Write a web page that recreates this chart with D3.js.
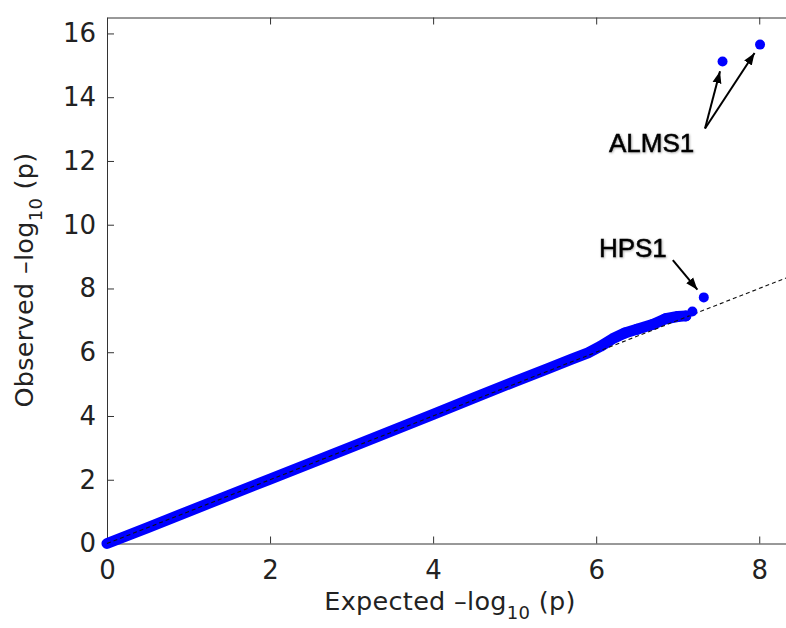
<!DOCTYPE html>
<html>
<head>
<meta charset="utf-8">
<script src="https://cdn.jsdelivr.net/npm/d3@7"></script>
<style>
  body { margin: 0; background: #fff; }
  .tick text { font-family: "DejaVu Sans", sans-serif; font-size: 26px; fill: #222; }
  .axis path, .axis line { stroke: #333; stroke-width: 1px; }
  .axisLabel { font-family: "DejaVu Sans", sans-serif; font-size: 25.5px; fill: #222; letter-spacing: 0.3px; }
  .gene { font-family: "Liberation Sans", Arial, sans-serif; font-size: 26px; fill: #000; }
</style>
</head>
<body>
<div id="chart"></div>
<script>
// QQ curve (expected vs observed -log10 p)
var expected = [0, 0.5, 1, 2, 3, 4, 4.5, 5, 5.4, 5.7, 5.9, 6.05, 6.2, 6.35, 6.5, 6.7, 6.85, 7.0, 7.1]
var observed = [0, 0.5, 1.01, 2.02, 3.03, 4.05, 4.57, 5.08, 5.48, 5.78, 5.98, 6.18, 6.42, 6.6, 6.72, 6.88, 7.05, 7.12, 7.14]
// single points at the top end
var tailExpected = [7.18, 7.32, 7.55, 8.01]
var tailObserved = [7.28, 7.72, 15.12, 15.65]

var xTicks = [0, 2, 4, 6, 8]
var yTicks = [0, 2, 4, 6, 8, 10, 12, 14, 16]

var annoGenes = ["ALMS1", "HPS1"]
var annoPoints = [[2, 3], [1]]
var annoLabelPos = [[6.68, 12.27], [6.45, 8.99]]
var annoArrowFrom = [[7.335, 13.02], [6.94, 8.89]]

var width = 786, height = 628
var blue = "#0000ff"

var svg = d3.select("#chart").append("svg")
  .attr("width", width)
  .attr("height", height)
  .style("display", "block")

var x = d3.scaleLinear().domain([0, 8.5]).range([107, 800])
var y = d3.scaleLinear().domain([0, 16.5]).range([543.5, 17.5])

var defs = svg.append("defs")
defs.append("filter").attr("id", "soft")
  .attr("x", "-10%").attr("y", "-20%").attr("width", "130%").attr("height", "150%")
  .append("feDropShadow")
  .attr("dx", 0.8).attr("dy", 0.8).attr("stdDeviation", 0.9)
  .attr("flood-color", "#000").attr("flood-opacity", 0.35)
defs.append("marker").attr("id", "head")
  .attr("markerUnits", "userSpaceOnUse")
  .attr("viewBox", "0 -5 12 10")
  .attr("refX", 12).attr("refY", 0)
  .attr("markerWidth", 12).attr("markerHeight", 10)
  .attr("orient", "auto")
  .append("path").attr("d", "M0,-4.5L12,0L0,4.5Z").attr("fill", "#000")

// axes: bottom + left with labels, top without
var xAxis = d3.axisBottom(x).tickValues(xTicks).tickSizeInner(-7).tickSizeOuter(0).tickPadding(17)
var yAxis = d3.axisLeft(y).tickValues(yTicks).tickSizeInner(-7).tickSizeOuter(0).tickPadding(11)
var topAxis = d3.axisTop(x).tickValues(xTicks).tickSizeInner(-7).tickSizeOuter(0).tickFormat("")

svg.append("g").attr("class", "axis")
  .attr("transform", "translate(0," + y.range()[0] + ")").call(xAxis)
svg.append("g").attr("class", "axis")
  .attr("transform", "translate(" + x.range()[0] + ",0)").call(yAxis)
svg.append("g").attr("class", "axis")
  .attr("transform", "translate(0," + y.range()[1] + ")").call(topAxis)
svg.selectAll(".axis .tick text").attr("fill", "#222")

// bulk of points drawn as a thick band
var pts = expected.map(function(d, i){ return {e: d, o: observed[i]} })
var line = d3.line()
  .x(function(d){ return x(d.e) })
  .y(function(d){ return y(d.o) })

svg.append("path").datum(pts)
  .attr("d", line)
  .style("fill", "none")
  .style("stroke", blue)
  .style("stroke-width", "11px")
  .style("stroke-linecap", "round")
  .style("stroke-linejoin", "round")

svg.selectAll(".bandDot").data(pts.slice(13)).enter().append("circle")
  .attr("class", "bandDot")
  .attr("cx", function(d){ return x(d.e) })
  .attr("cy", function(d){ return y(d.o) })
  .attr("r", 5.5)
  .style("fill", blue)

// y = x reference
svg.append("path").datum(x.domain())
  .attr("d", d3.line().x(function(d){ return x(d) }).y(function(d){ return y(d) }))
  .style("fill", "none")
  .style("stroke", "#111")
  .style("stroke-width", "1.1px")
  .style("stroke-dasharray", "4,3")

var tail = tailExpected.map(function(d, i){ return {e: d, o: tailObserved[i]} })
svg.selectAll(".dot").data(tail).enter().append("circle")
  .attr("class", "dot")
  .attr("cx", function(d){ return x(d.e) })
  .attr("cy", function(d){ return y(d.o) })
  .attr("r", 5)
  .style("fill", blue)

// gene annotations
annoGenes.forEach(function(g, i){
  var fx = x(annoArrowFrom[i][0]), fy = y(annoArrowFrom[i][1])
  annoPoints[i].forEach(function(k){
    var px = x(tail[k].e), py = y(tail[k].o)
    var dx = px - fx, dy = py - fy, len = Math.sqrt(dx * dx + dy * dy)
    var gap = 10
    svg.append("line")
      .attr("x1", fx).attr("y1", fy)
      .attr("x2", px - dx / len * gap).attr("y2", py - dy / len * gap)
      .style("stroke", "#000")
      .style("stroke-width", "2px")
      .attr("marker-end", "url(#head)")
  })
  svg.append("text").attr("class", "gene")
    .attr("x", x(annoLabelPos[i][0]))
    .attr("y", y(annoLabelPos[i][1]))
    .attr("text-anchor", "middle")
    .style("stroke", "#000")
    .style("stroke-width", "0.5px")
    .attr("filter", "url(#soft)")
    .text(g)
})

// axis titles with subscript
var xl = svg.append("text").attr("class", "axisLabel")
  .attr("x", 450).attr("y", 610)
  .attr("text-anchor", "middle")
xl.append("tspan").text("Expected \u2013log")
xl.append("tspan").attr("dy", 9).style("font-size", "18px").text("10")
xl.append("tspan").attr("dy", -9).text(" (p)")

var yl = svg.append("text").attr("class", "axisLabel")
  .attr("transform", "translate(33,280) rotate(-90)")
  .attr("text-anchor", "middle")
yl.append("tspan").text("Observed \u2013log")
yl.append("tspan").attr("dy", 9).style("font-size", "18px").text("10")
yl.append("tspan").attr("dy", -9).text(" (p)")
</script>
</body>
</html>
